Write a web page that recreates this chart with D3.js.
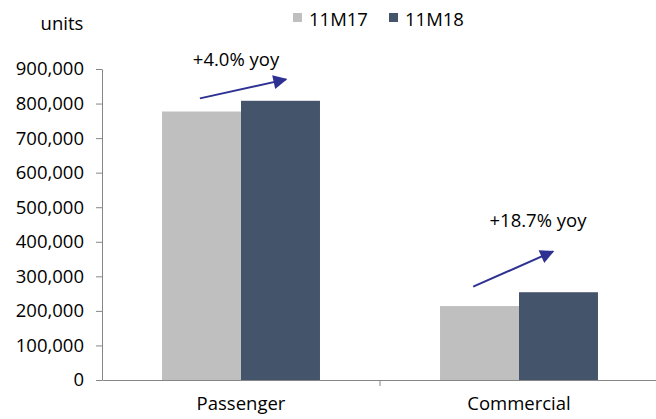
<!DOCTYPE html>
<html>
<head>
<meta charset="utf-8">
<script src="https://cdn.jsdelivr.net/npm/d3@7"></script>
<style>
	body { margin: 0; background: #fff; }
	text { font-family: "Open Sans", sans-serif; fill: #000; }
</style>
</head>
<body>
<div id="chart"></div>
<script>
// categories and series
const categories = ["Passenger", "Commercial"];
const seriesNames = ["11M17", "11M18"];
const values11M17 = [777000, 214000];
const values11M18 = [808000, 254000];
const yTicks = [0, 100000, 200000, 300000, 400000, 500000, 600000, 700000, 800000, 900000];

// yoy annotations (arrow ends in data units)
const yoyLabels = ["+4.0% yoy", "+18.7% yoy"];
const arrowFrom = [815000, 270000];
const arrowTo = [870000, 372000];

function main() {

	const SVG_WIDTH = 656;
	const SVG_HEIGHT = 419;
	const FONT = "18.5px";

	// plot area
	var margin = {top: 69, left: 102, right: -2, bottom: 39};
	var width = SVG_WIDTH - margin.left - margin.right;
	var height = SVG_HEIGHT - margin.top - margin.bottom;

	var svg = d3.select("#chart")
		.append("svg")
		.attr("width", SVG_WIDTH)
		.attr("height", SVG_HEIGHT);

	var g = svg.append("g")
		.attr("transform", "translate(" + margin.left + "," + margin.top + ")");

	var colors = d3.scaleOrdinal().domain(seriesNames).range(["#bfbfbf", "#44546a"]);

	var x0 = d3.scaleBand().domain(categories).range([0, width]).padding(0);
	var x1 = d3.scaleBand().domain(seriesNames).range([0, x0.bandwidth()])
		.paddingInner(0).paddingOuter(0.76);
	var y = d3.scaleLinear().domain([0, 900000]).range([height, 0]);

	var rows = categories.map((c, i) => ({
		cat: c,
		vals: [{s: "11M17", v: values11M17[i]}, {s: "11M18", v: values11M18[i]}]
	}));

	// bars
	g.selectAll(".cat")
		.data(rows)
		.enter()
		.append("g")
		.attr("transform", d => "translate(" + x0(d.cat) + ",0)")
		.selectAll("rect")
		.data(d => d.vals)
		.enter()
		.append("rect")
		.attr("x", d => x1(d.s))
		.attr("width", x1.bandwidth())
		.attr("y", d => y(d.v))
		.attr("height", d => height - y(d.v))
		.attr("fill", d => colors(d.s));

	// y axis
	var yAxis = g.append("g")
		.call(d3.axisLeft(y).tickValues(yTicks).tickSize(6).tickSizeOuter(0).tickPadding(12)
			.tickFormat(d3.format(",")));
	yAxis.select(".domain").attr("stroke", "#868686");
	yAxis.selectAll(".tick line").attr("stroke", "#868686");
	yAxis.selectAll(".tick text").attr("font-size", FONT).attr("font-family", "'Open Sans', sans-serif").attr("fill", "#000");

	// x axis
	var xAxis = g.append("g")
		.attr("transform", "translate(0," + height + ")")
		.call(d3.axisBottom(x0).tickSize(0).tickPadding(17));
	xAxis.select(".domain").attr("stroke", "#868686");
	xAxis.selectAll(".tick text").attr("font-size", FONT).attr("font-family", "'Open Sans', sans-serif").attr("fill", "#000");
	// tick between categories
	g.append("g")
		.selectAll("line")
		.data(categories.slice(1))
		.enter()
		.append("line")
		.attr("x1", d => x0(d)).attr("x2", d => x0(d))
		.attr("y1", height).attr("y2", height + 6)
		.attr("stroke", "#868686");

	// units label
	svg.append("text")
		.attr("x", 62).attr("y", 30)
		.attr("text-anchor", "middle")
		.attr("font-size", FONT)
		.text("units");

	// legend
	var legend = svg.append("g").attr("transform", "translate(293,13)");
	var items = legend.selectAll("g")
		.data(seriesNames)
		.enter()
		.append("g")
		.attr("transform", (d, i) => "translate(" + (i * 96) + ",0)");
	items.append("rect")
		.attr("width", 9).attr("height", 9)
		.attr("fill", d => colors(d));
	items.append("text")
		.attr("x", 16).attr("y", 13)
		.attr("font-size", FONT)
		.text(d => d);

	// arrows
	var defs = svg.append("defs");
	defs.append("marker")
		.attr("id", "head")
		.attr("viewBox", "0 0 10 10")
		.attr("refX", 9).attr("refY", 5)
		.attr("markerWidth", 7.5).attr("markerHeight", 7)
		.attr("markerUnits", "strokeWidth")
		.attr("orient", "auto")
		.append("path")
		.attr("d", "M0,0 L10,5 L0,10 z")
		.attr("fill", "#2e3192");

	var startFrac = [0.48, 0.42];
	var endFrac = [0.57, 0.43];
	var labelShift = [-5, 19];
	rows.forEach((d, i) => {
		var xs = x0(d.cat) + x1("11M17") + x1.bandwidth() * startFrac[i];
		var xe = x0(d.cat) + x1("11M18") + x1.bandwidth() * endFrac[i];
		g.append("line")
			.attr("x1", xs).attr("y1", y(arrowFrom[i]))
			.attr("x2", xe).attr("y2", y(arrowTo[i]))
			.attr("stroke", "#2e3192")
			.attr("stroke-width", 2)
			.attr("marker-end", "url(#head)");
		g.append("text")
			.attr("x", x0(d.cat) + x1("11M18") + labelShift[i])
			.attr("y", y(arrowTo[i]) - (i === 0 ? 13 : 24))
			.attr("text-anchor", "middle")
			.attr("font-size", FONT)
			.text(yoyLabels[i]);
	});
}

function whenDocumentLoaded(action) {
	if (document.readyState === "loading") {
		document.addEventListener("DOMContentLoaded", action);
	} else {
		action();
	}
}

whenDocumentLoaded(() => {
	main();
});
</script>
</body>
</html>
